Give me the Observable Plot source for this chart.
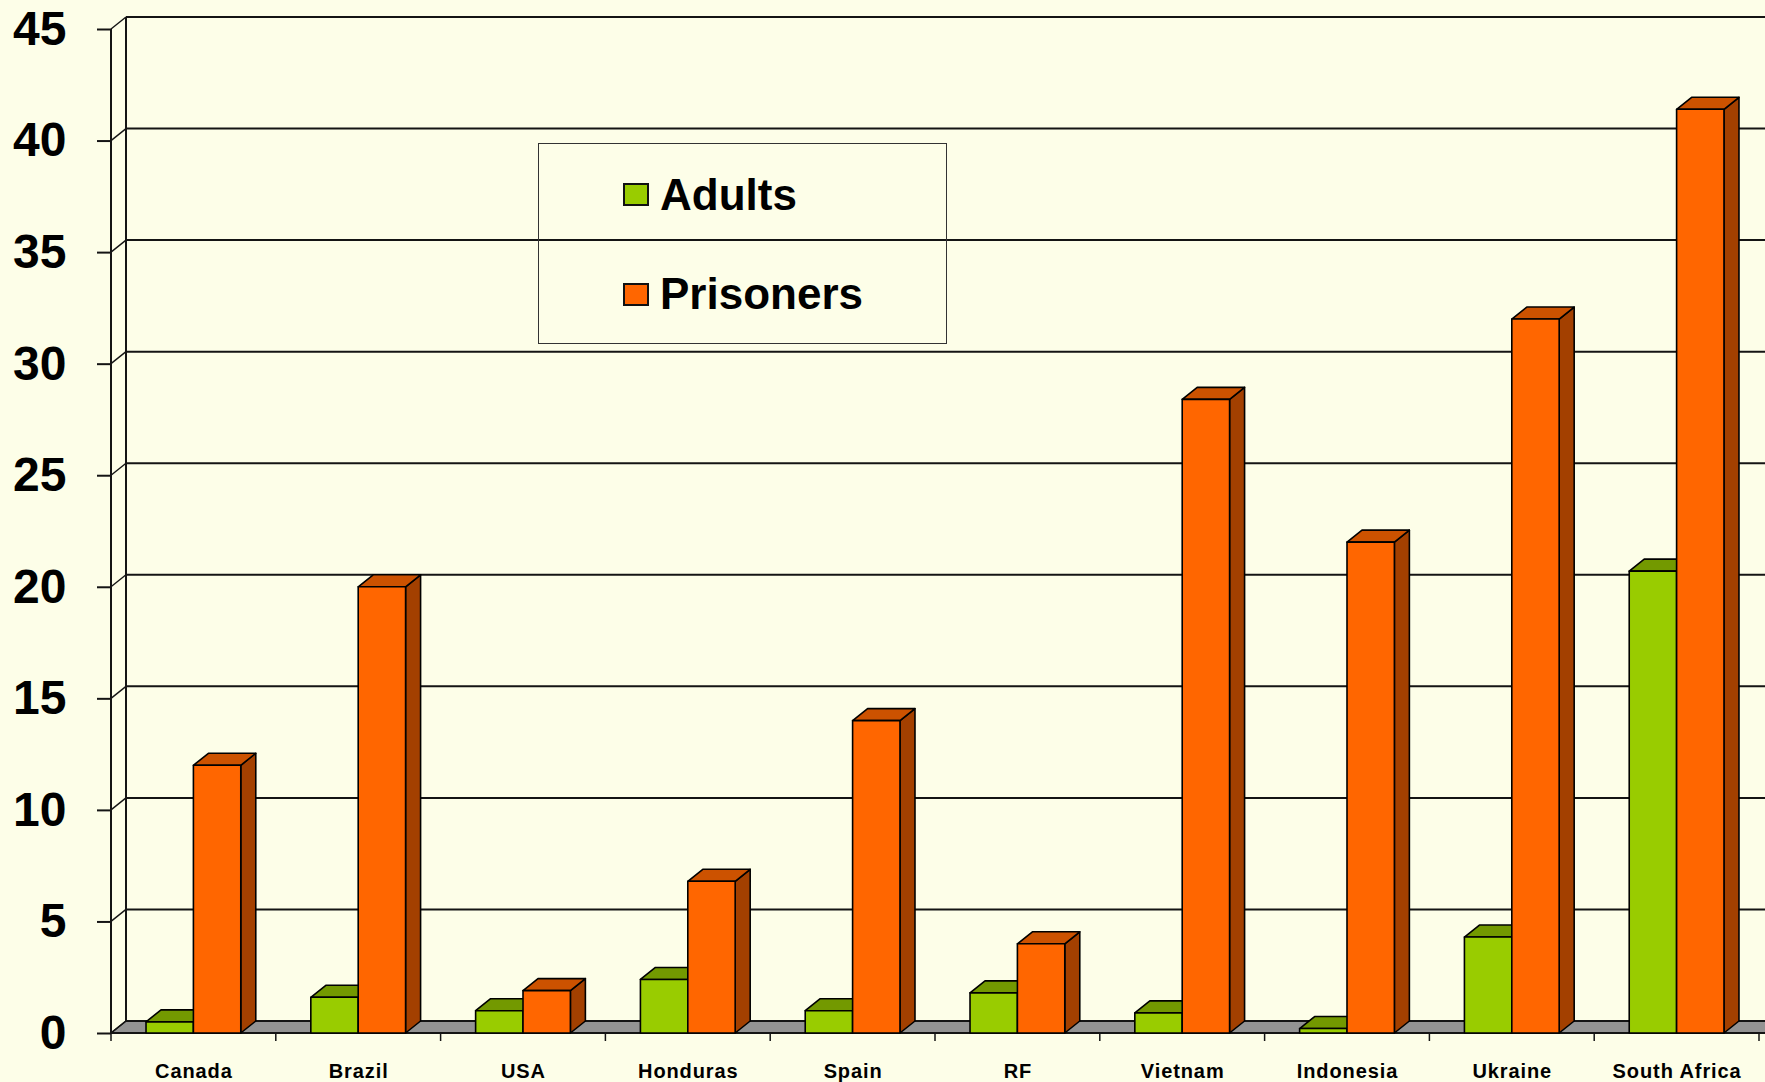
<!DOCTYPE html>
<html>
<head>
<meta charset="utf-8">
<script src="https://cdn.jsdelivr.net/npm/d3@7"></script>
<script src="https://cdn.jsdelivr.net/npm/@observablehq/plot@0.6"></script>
<style>
  html, body { margin: 0; padding: 0; background: #FDFEE8; }
  #wrap { position: relative; width: 1765px; height: 1082px; overflow: hidden; font-family: "Liberation Sans", Arial, sans-serif; }
  #wrap svg { display: block; }
  [aria-label="x-axis tick label"] text { letter-spacing: 0.9px; }
  .legend { position: absolute; left: 538px; top: 143px; width: 409px; height: 201px; border: 1.5px solid #333; box-sizing: border-box; }
  .legend .sw { position: absolute; width: 26px; height: 23px; border: 2px solid #111; box-sizing: border-box; }
  .legend .lbl { position: absolute; font: bold 44px/44px "Liberation Sans", Arial, sans-serif; color: #000; white-space: nowrap; }
</style>
</head>
<body>
<div id="wrap"></div>
<script>
// ---- data ----
const countries = ["Canada", "Brazil", "USA", "Honduras", "Spain", "RF", "Vietnam", "Indonesia", "Ukraine", "South Africa"];
const adults    = [0.5, 1.6, 1.0, 2.4, 1.0, 1.8, 0.9, 0.2, 4.3, 20.7];
const prisoners = [12.0, 20.0, 1.9, 6.8, 14.0, 4.0, 28.4, 22.0, 32.0, 41.4];
const yTicks    = [0, 5, 10, 15, 20, 25, 30, 35, 40, 45];
const seriesNames = ["Adults", "Prisoners"];

const data = countries.map((c, i) => ({country: c, Adults: adults[i], Prisoners: prisoners[i]}));

// ---- style ----
const BG = "#FDFEE8";
const DX = 15, DY = 12;          // depth offset of the 3D effect
const GAP = 0.2125, BAR = 0.2875; // fractions of a category band
const colors = {
  Adults:    {front: "#99CC00", top: "#739900", side: "#5C7A00"},
  Prisoners: {front: "#FF6600", top: "#CC5200", side: "#A34000"}
};

function bandwidthOf(x) {
  return x.bandwidth ? x.bandwidth() : (x(countries[1]) - x(countries[0]));
}

// walls, floor, gridlines and axis lines (drawn through the plot's scales)
function walls() {
  return Plot.dot(data, {
    x: "country", y: "Adults",
    render: (index, scales) => {
      const {x, y} = scales;
      const g = d3.create("svg:g");
      const bw = bandwidthOf(x);
      const left = x(countries[0]);
      const right = x(countries[countries.length - 1]) + bw;
      const y0 = y(0), yTop = y(d3.max(yTicks));
      const ink = "#141414";
      // floor
      g.append("path")
        .attr("d", `M${left},${y0}L${right + 40},${y0}L${right + 40 + DX},${y0 - DY}L${left + DX},${y0 - DY}Z`)
        .attr("fill", "#939393").attr("stroke", ink).attr("stroke-width", 1.5);
      // back-wall gridlines and left-wall diagonals
      for (const t of yTicks) {
        const yy = y(t);
        g.append("line").attr("x1", left + DX).attr("x2", right + DX + 40)
          .attr("y1", yy - DY).attr("y2", yy - DY)
          .attr("stroke", ink).attr("stroke-width", 2);
        g.append("line").attr("x1", left).attr("x2", left + DX)
          .attr("y1", yy).attr("y2", yy - DY)
          .attr("stroke", ink).attr("stroke-width", 1.5);
      }
      // left wall verticals
      g.append("line").attr("x1", left + DX).attr("x2", left + DX)
        .attr("y1", y0 - DY).attr("y2", yTop - DY).attr("stroke", ink).attr("stroke-width", 2);
      g.append("line").attr("x1", left).attr("x2", left)
        .attr("y1", y0).attr("y2", yTop).attr("stroke", ink).attr("stroke-width", 2);
      // front floor edge
      g.append("line").attr("x1", left).attr("x2", right + 40)
        .attr("y1", y0).attr("y2", y0).attr("stroke", ink).attr("stroke-width", 2);
      // category boundary ticks
      for (let i = 0; i <= countries.length; i++) {
        const xx = left + i * bw;
        g.append("line").attr("x1", xx).attr("x2", xx)
          .attr("y1", y0).attr("y2", y0 + 8).attr("stroke", ink).attr("stroke-width", 1.5);
      }
      return g.node();
    }
  });
}

// 3D column series
function prism(field, slot) {
  const c = colors[field];
  return Plot.dot(data, {
    x: "country", y: field,
    render: (index, scales) => {
      const {x, y} = scales;
      const g = d3.create("svg:g").attr("stroke", "#000").attr("stroke-width", 1.6).attr("stroke-linejoin", "round");
      const bw = bandwidthOf(x);
      for (const i of index) {
        const d = data[i];
        const x0 = x(d.country) + bw * (GAP + slot * BAR);
        const x1 = x0 + bw * BAR;
        const yv = y(d[field]), y0 = y(0);
        g.append("path")
          .attr("d", `M${x1},${yv}L${x1 + DX},${yv - DY}L${x1 + DX},${y0 - DY}L${x1},${y0}Z`)
          .attr("fill", c.side);
        g.append("path")
          .attr("d", `M${x0},${yv}L${x0 + DX},${yv - DY}L${x1 + DX},${yv - DY}L${x1},${yv}Z`)
          .attr("fill", c.top);
        g.append("rect")
          .attr("x", x0).attr("y", yv).attr("width", x1 - x0).attr("height", y0 - yv)
          .attr("fill", c.front);
      }
      return g.node();
    }
  });
}

const chart = Plot.plot({
  width: 1765,
  height: 1082,
  marginLeft: 111,
  marginRight: 6,
  marginTop: 29,
  marginBottom: 49,
  style: {background: BG, fontFamily: "'Liberation Sans', Arial, sans-serif", color: "#000", overflow: "visible"},
  x: {type: "band", domain: countries, padding: 0, round: false},
  y: {domain: [0, 45]},
  marks: [
    walls(),
    prism("Adults", 0),
    prism("Prisoners", 1),
    Plot.axisY({ticks: yTicks, tickSize: 14, tickPadding: 31, fontSize: 48, fontWeight: "bold", tickFormat: d => String(d), label: null, stroke: "#141414", strokeWidth: 2}),
    Plot.axisX({tickSize: 0, tickPadding: 30, fontSize: 20, fontWeight: "bold", label: null})
  ]
});

const wrap = document.getElementById("wrap");
wrap.appendChild(chart);

// legend (inside the plot area, as in the original)
const legend = document.createElement("div");
legend.className = "legend";
const legendRows = [{sw: 39, lbl: 29}, {sw: 139, lbl: 128}];
seriesNames.forEach((name, i) => {
  const sw = document.createElement("div");
  sw.className = "sw";
  sw.style.left = "84px";
  sw.style.top = legendRows[i].sw + "px";
  sw.style.background = colors[name].front;
  const lbl = document.createElement("div");
  lbl.className = "lbl";
  lbl.style.left = "121px";
  lbl.style.top = legendRows[i].lbl + "px";
  lbl.textContent = name;
  legend.appendChild(sw);
  legend.appendChild(lbl);
});
wrap.appendChild(legend);
</script>
</body>
</html>
